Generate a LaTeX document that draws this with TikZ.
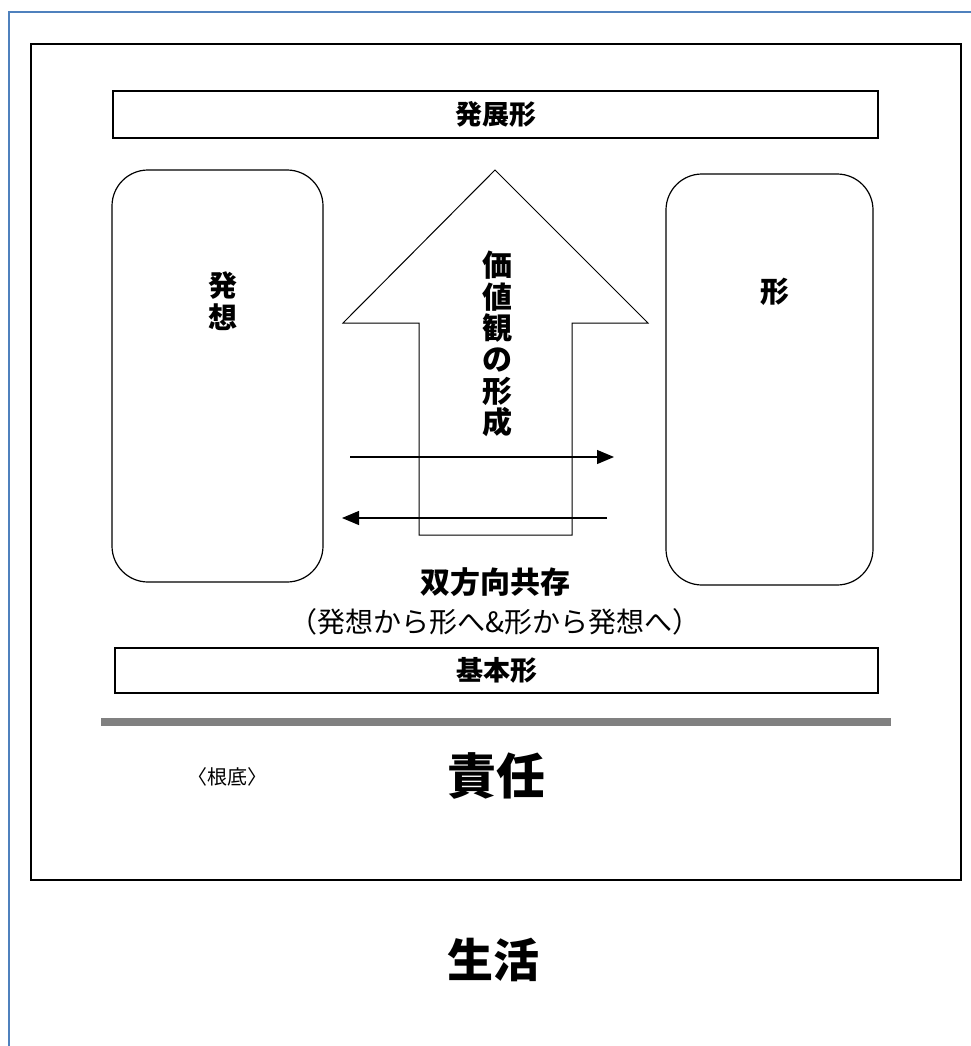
\documentclass[tikz,border=0pt]{standalone}
\usepackage{fontspec}
\setmainfont{Noto Sans CJK JP}
\usetikzlibrary{arrows.meta}
\definecolor{frameblue}{RGB}{79,129,189}
\definecolor{rulegray}{RGB}{128,128,128}
\begin{document}
\begin{tikzpicture}[x=1pt,y=-1pt,
  thickbox/.style={draw,line width=2pt,inner sep=0pt},
  roundbox/.style={draw,line width=1.2pt,rounded corners=36pt,inner sep=0pt},
  label/.style={inner sep=0pt,font=\bfseries\fontsize{27}{30}\selectfont},
  vlabel/.style={inner sep=0pt,align=center},
  flow/.style={line width=1.2pt,-{Triangle[length=17pt,width=14pt]}}]
\useasboundingbox (0,0) rectangle (971,1046);
% page frame
\draw[frameblue,line width=1.5pt] (971,12) -- (9,12) -- (9,1046);
% outer frame
\node[thickbox,minimum width=930pt,minimum height=836pt] (outer) at (496,462) {};
% top and bottom boxes
\node[thickbox,minimum width=765pt,minimum height=47pt] (top) at (495.5,114.5) {};
\node[label] (toptext) at (top.center) {発展形};
\node[thickbox,minimum width=763pt,minimum height=45pt] (base) at (496.5,670.5) {};
\node[label] (basetext) at (base.center) {基本形};
% side rounded boxes
\node[roundbox,minimum width=211pt,minimum height=412pt] (idea) at (217.5,376) {};
\node[vlabel,font=\bfseries\fontsize{29}{32}\selectfont] (ideatext) at (223,301) {発\\想};
\node[roundbox,minimum width=207pt,minimum height=411pt] (form) at (769.5,379.5) {};
\node[vlabel,font=\bfseries\fontsize{29}{32}\selectfont] (formtext) at (775,292) {形};
% block arrow
\draw[line width=1pt,fill=white] (495,170) -- (648,323) -- (572,323) -- (572,535)
  -- (419,535) -- (419,323) -- (343,323) -- cycle;
\node[vlabel,font=\bfseries\fontsize{30}{31.4}\selectfont] (value) at (497,344)
  {価\\値\\観\\の\\形\\成};
% two-way arrows
\coordinate (r1) at (350,457);
\coordinate (r2) at (614,457);
\coordinate (l1) at (607,518);
\coordinate (l2) at (342,518);
\draw[flow] (r1) -- (r2);
\draw[flow] (l1) -- (l2);
\node[inner sep=0pt,font=\bfseries\fontsize{30}{32}\selectfont] (coexist) at (495,582) {双方向共存};
\node[inner sep=0pt,font=\fontsize{28}{32}\selectfont] (paren) at (495,622) {（発想から形へ\&形から発想へ）};
% gray rule
\draw[rulegray,line width=8pt] (101,722) -- (891,722);
\node[inner sep=0pt,font=\fontsize{20}{22}\selectfont] (root) at (227,777) {〈根底〉};
\node[inner sep=0pt,font=\bfseries\fontsize{49}{52}\selectfont] (resp) at (496,776) {責任};
\node[inner sep=0pt,font=\bfseries\fontsize{46}{50}\selectfont] (life) at (493,960) {生活};
\end{tikzpicture}
\end{document}
